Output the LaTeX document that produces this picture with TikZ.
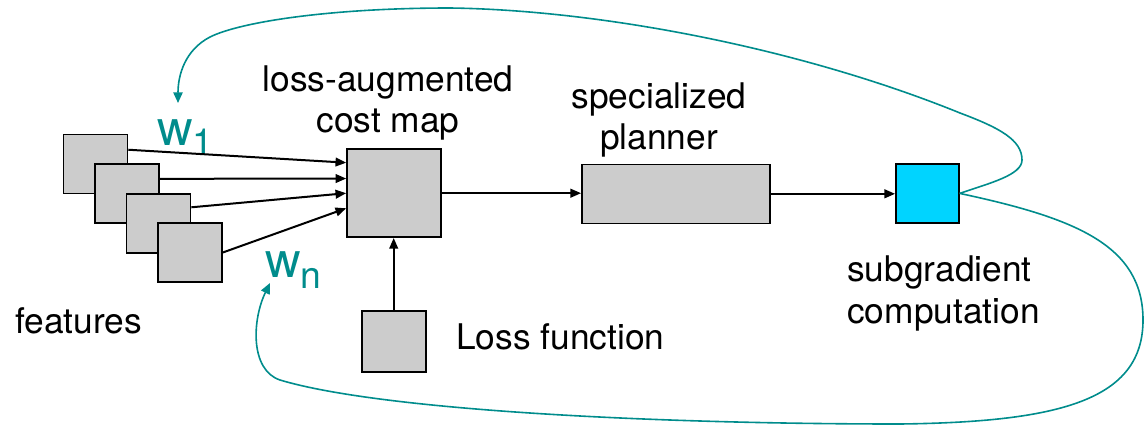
\documentclass[tikz,border=0pt]{standalone}
\usepackage{fontspec}
\setmainfont{TeX Gyre Heros}
\usepackage{tikz}
\usetikzlibrary{arrows.meta}
\definecolor{boxgray}{RGB}{204,204,204}
\definecolor{subcyan}{RGB}{0,212,255}
\definecolor{loopteal}{RGB}{0,140,140}
\tikzstyle{every node} = [align = center, inner sep = 0]
\tikzstyle{box} = [draw, fill = boxgray, line width = 1.2pt]
\tikzstyle{flow} = [-{Triangle[length = 8pt, width = 6.5pt]}, line width = 1.5pt]
\tikzstyle{feedback} = [-{Triangle[length = 8pt, width = 7pt]}, draw = loopteal, line width = 1.2pt]
\tikzstyle{txt} = [font = \fontsize{26.5}{31}\selectfont]
\tikzstyle{wlabel} = [text = loopteal, font = \fontsize{37}{40}\selectfont]

\begin{document}
\begin{tikzpicture}[x = 0.75pt, y = -0.75pt]
        \useasboundingbox (0, 0) rectangle (1145, 425);
        \node [box, minimum width = 48pt, minimum height = 44.25pt] (f1) at (95.5, 164) {};
        \node [box, minimum width = 48pt, minimum height = 44.25pt] (f2) at (127, 193.5) {};
        \node [box, minimum width = 48pt, minimum height = 44.25pt] (f3) at (158.5, 223.3) {};
        \node [box, minimum width = 48pt, minimum height = 44.25pt] (f4) at (190, 252.5) {};
        \node [box, minimum width = 70.5pt, minimum height = 66pt] (cost) at (394, 193.2) {};
        \node [box, minimum width = 48pt, minimum height = 45.75pt] (loss) at (393.7, 341.3) {};
        \node [box, minimum width = 141pt, minimum height = 44.25pt] (planner) at (675.9, 193.8) {};
        \node [box, fill = subcyan, minimum width = 47.25pt, minimum height = 44.25pt] (sub) at (927.4, 193.4) {};
        \node [txt] (costlabel) at (388, 103.3) {loss-augmented\\cost map};
        \node [txt] (plannerlabel) at (659, 120.3) {specialized\\planner};
        \node [txt, anchor = west, align = left] (sublabel) at (847, 293.3) {subgradient\\computation};
        \node [txt, anchor = base west] (featlabel) at (15, 333.3) {features};
        \node [txt, anchor = base west] (losslabel) at (456, 349.3) {Loss function};
        \node [wlabel, anchor = base west] (w1) at (157, 145) {w\raisebox{-8pt}{\fontsize{28}{30}\selectfont 1}};
        \node [wlabel, anchor = base west] (wn) at (265, 277.5) {w\raisebox{-8pt}{\fontsize{28}{30}\selectfont n}};
        \coordinate (w1tip) at (178, 103);
        \coordinate (wntip) at (270, 283);
        \draw [flow] ([yshift = 10.7pt] f1.east) -- ([yshift = 22.9pt] cost.west);
        \draw [flow] ([yshift = 11pt] f2.east) -- ([yshift = 11pt] cost.west);
        \draw [flow] ([yshift = 12pt] f3.east) -- (cost.west);
        \draw [flow] (f4.east) -- ([yshift = -11.3pt] cost.west);
        \draw [flow] (cost.east) -- (cost.east -| planner.west);
        \draw [flow] (planner.east) -- (planner.east -| sub.west);
        \draw [flow] (loss.north) -- (loss.north |- cost.south);
        \draw [feedback] (sub.east) .. controls (990, 183) and (1022, 175) .. (1022, 160)
            .. controls (1022, 140) and (1000, 128) .. (960, 113)
            .. controls (800, 48) and (600, 10) .. (450, 8)
            .. controls (330, 8) and (240, 22) .. (210, 37)
            .. controls (185, 50) and (178, 75) .. (w1tip);
        \draw [feedback] (sub.east) .. controls (1075, 218) and (1143, 245) .. (1143, 320)
            .. controls (1143, 400) and (1060, 422) .. (900, 424)
            .. controls (650, 424) and (380, 410) .. (280, 380)
            .. controls (250, 370) and (252, 320) .. (wntip);
    \end{tikzpicture}
\end{document}
